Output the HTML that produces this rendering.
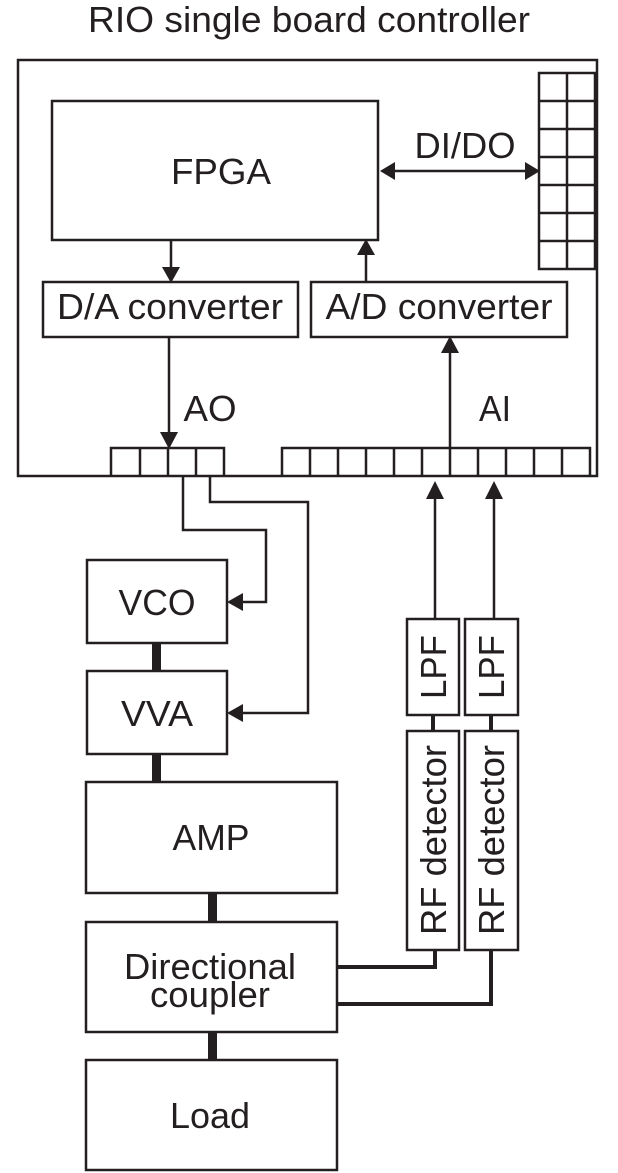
<!DOCTYPE html>
<html><head><style>
html,body{margin:0;padding:0;background:#fff;}
svg{display:block;}
text{font-family:"Liberation Sans",Arial,sans-serif;fill:#231f20;}
</style></head><body>
<svg width="618" height="1173" viewBox="0 0 618 1173" xmlns="http://www.w3.org/2000/svg">
<g fill="none" stroke="#231f20" stroke-width="2.5">
<rect x="18" y="60" width="579" height="416"/>
<rect x="539" y="73" width="56" height="196"/>
<line x1="567" y1="73" x2="567" y2="269"/>
<line x1="539" y1="101" x2="595" y2="101"/>
<line x1="539" y1="129" x2="595" y2="129"/>
<line x1="539" y1="157" x2="595" y2="157"/>
<line x1="539" y1="185" x2="595" y2="185"/>
<line x1="539" y1="213" x2="595" y2="213"/>
<line x1="539" y1="241" x2="595" y2="241"/>
<rect x="52" y="101" width="326" height="139"/>
<rect x="43" y="282" width="255" height="55"/>
<rect x="311" y="282" width="256" height="55"/>
<path d="M111 476 V448 H224 V476"/>
<line x1="140" y1="448" x2="140" y2="476"/>
<line x1="168" y1="448" x2="168" y2="476"/>
<line x1="196" y1="448" x2="196" y2="476"/>
<path d="M282 476 V448 H590 V476"/>
<line x1="310" y1="448" x2="310" y2="476"/>
<line x1="338" y1="448" x2="338" y2="476"/>
<line x1="366" y1="448" x2="366" y2="476"/>
<line x1="394" y1="448" x2="394" y2="476"/>
<line x1="422" y1="448" x2="422" y2="476"/>
<line x1="450" y1="448" x2="450" y2="476"/>
<line x1="478" y1="448" x2="478" y2="476"/>
<line x1="506" y1="448" x2="506" y2="476"/>
<line x1="534" y1="448" x2="534" y2="476"/>
<line x1="562" y1="448" x2="562" y2="476"/>
<line x1="390" y1="171" x2="530" y2="171"/>
<line x1="171" y1="240" x2="171" y2="270"/>
<line x1="366" y1="282" x2="366" y2="252"/>
<line x1="169" y1="337" x2="169" y2="435"/>
<line x1="450" y1="448" x2="450" y2="350"/>
<path d="M183 476 V530 H266 V602 H240"/>
<path d="M210 476 V502 H308 V713 H240"/>
<line x1="435" y1="619" x2="435" y2="495"/>
<line x1="494" y1="619" x2="494" y2="495"/>
<rect x="87" y="560" width="140" height="83"/>
<rect x="87" y="671" width="140" height="83"/>
<rect x="86" y="782" width="251" height="111"/>
<rect x="86" y="922" width="251" height="110"/>
<rect x="86" y="1060" width="251" height="110"/>
<rect x="407" y="619" width="52" height="96"/>
<rect x="465" y="619" width="53" height="96"/>
<rect x="407" y="731" width="52" height="219"/>
<rect x="465" y="731" width="53" height="219"/>
<line x1="433" y1="715" x2="433" y2="731" stroke-width="4"/>
<line x1="491" y1="715" x2="491" y2="731" stroke-width="4"/>
<path d="M337 967 H435 V950" stroke-width="4"/>
<path d="M337 1004 H491 V950" stroke-width="4"/>
</g>
<g fill="#231f20">
<rect x="152" y="643" width="9" height="28"/>
<rect x="152" y="754" width="9" height="28"/>
<rect x="208" y="893" width="9" height="29"/>
<rect x="208" y="1032" width="9" height="28"/>
<polygon points="380,171 395,162 395,180"/>
<polygon points="540,171 525,162 525,180"/>
<polygon points="171,283 162,267 180,267"/>
<polygon points="366,239 357,255 375,255"/>
<polygon points="169,449 160,432 178,432"/>
<polygon points="450,336 441,353 459,353"/>
<polygon points="227,602 243,593 243,611"/>
<polygon points="227,713 243,704 243,722"/>
<polygon points="435,481 426,499 444,499"/>
<polygon points="494,481 485,499 503,499"/>
</g>
<g font-size="36">
<text x="309" y="32" text-anchor="middle" textLength="442" lengthAdjust="spacingAndGlyphs">RIO single board controller</text>
<text x="221" y="184" text-anchor="middle" textLength="100" lengthAdjust="spacingAndGlyphs">FPGA</text>
<text x="465" y="158" text-anchor="middle" textLength="101" lengthAdjust="spacingAndGlyphs">DI/DO</text>
<text x="170" y="319" text-anchor="middle" textLength="226" lengthAdjust="spacingAndGlyphs">D/A converter</text>
<text x="439" y="319" text-anchor="middle" textLength="227" lengthAdjust="spacingAndGlyphs">A/D converter</text>
<text x="210" y="421" text-anchor="middle" textLength="53" lengthAdjust="spacingAndGlyphs">AO</text>
<text x="495" y="421" text-anchor="middle" textLength="32" lengthAdjust="spacingAndGlyphs">AI</text>
<text x="157" y="615" text-anchor="middle" textLength="77" lengthAdjust="spacingAndGlyphs">VCO</text>
<text x="157" y="726" text-anchor="middle" textLength="72" lengthAdjust="spacingAndGlyphs">VVA</text>
<text x="211" y="850" text-anchor="middle" textLength="77" lengthAdjust="spacingAndGlyphs">AMP</text>
<text x="210" y="979" text-anchor="middle" textLength="172" lengthAdjust="spacingAndGlyphs">Directional</text>
<text x="210" y="1007" text-anchor="middle" textLength="120" lengthAdjust="spacingAndGlyphs">coupler</text>
<text x="210" y="1128" text-anchor="middle" textLength="80" lengthAdjust="spacingAndGlyphs">Load</text>
<text transform="translate(446,667) rotate(-90)" text-anchor="middle" textLength="64" lengthAdjust="spacingAndGlyphs">LPF</text>
<text transform="translate(504,667) rotate(-90)" text-anchor="middle" textLength="64" lengthAdjust="spacingAndGlyphs">LPF</text>
<text transform="translate(446,840) rotate(-90)" text-anchor="middle" textLength="190" lengthAdjust="spacingAndGlyphs">RF detector</text>
<text transform="translate(504,840) rotate(-90)" text-anchor="middle" textLength="190" lengthAdjust="spacingAndGlyphs">RF detector</text>
</g>
</svg>
</body></html>
